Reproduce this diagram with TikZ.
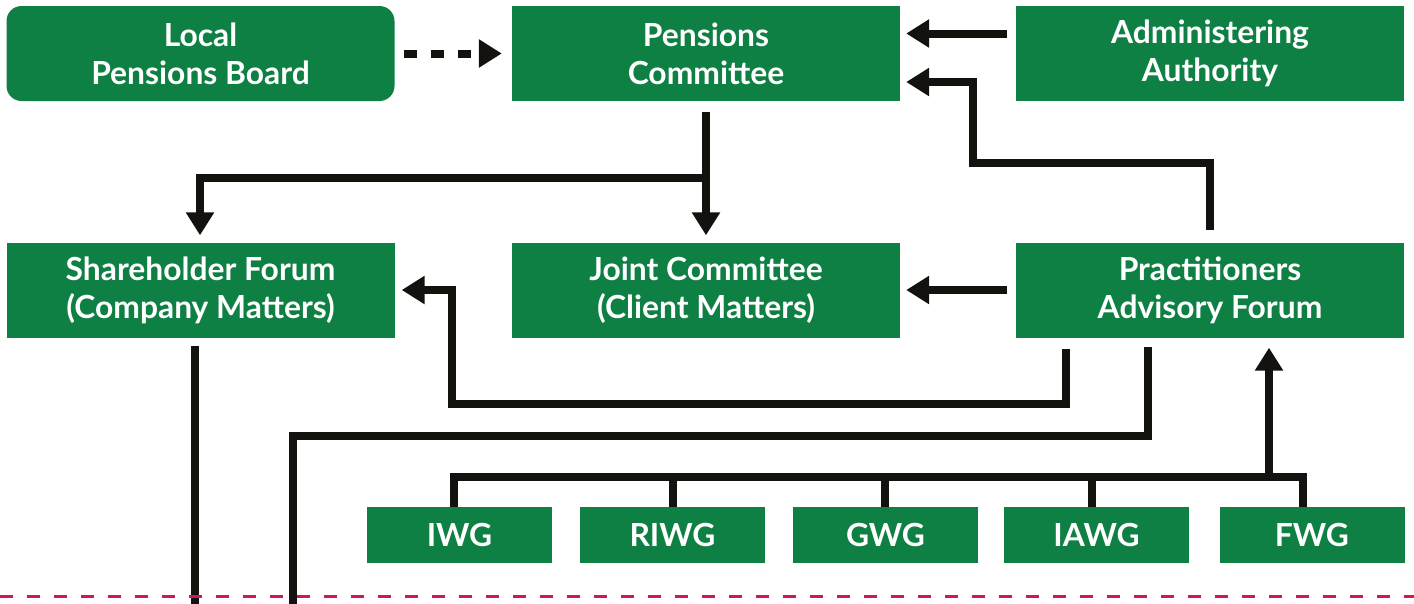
\documentclass[tikz,border=0pt]{standalone}
\usepackage{fontspec}
\setmainfont{Lato}
\usetikzlibrary{arrows.meta}
\definecolor{pgreen}{RGB}{15,128,68}
\definecolor{pblack}{RGB}{19,18,14}
\definecolor{pred}{RGB}{214,19,91}
\begin{document}
\begin{tikzpicture}[x=1pt,y=-1pt,
    box/.style={fill=pgreen,text=white,align=center,inner sep=0pt,
        minimum width=388pt,minimum height=95pt,
        font=\fontsize{31.8}{38}\selectfont\bfseries},
    wg/.style={box,minimum width=185pt,minimum height=56pt},
    line/.style={draw=pblack,line width=8pt},
    arr/.style={line,-{Triangle[length=23pt,width=27pt]}}]
    \useasboundingbox (0,0) rectangle (1414,603);
    %top row
    \node[box,rounded corners=15pt] (lpb) at (200.5,53.5) {Local\\Pensions Board};
    \node[box] (pc) at (706,53.5) {Pensions\\Committee};
    \node[box] (aa) at (1210,53.5) {Administering\\Authority};
    %middle row
    \node[box] (sf) at (200.5,290) {Shareholder Forum\\(Company Matters)};
    \node[box] (jc) at (706,290) {Joint Committee\\(Client Matters)};
    \node[box] (paf) at (1210,290) {Practitioners\\Advisory Forum};
    %working groups
    \node[wg] (iwg) at (459.5,535) {IWG};
    \node[wg] (riwg) at (672.5,535) {RIWG};
    \node[wg] (gwg) at (885.5,535) {GWG};
    \node[wg] (iawg) at (1096.5,535) {IAWG};
    \node[wg] (fwg) at (1312,535) {FWG};
    \coordinate (exitA) at (194.5,610);
    \coordinate (exitB) at (293,610);
    %arrows into the committee
    \draw[arr] [dash pattern=on 13pt off 14pt] ([xshift=9pt]lpb.east) -- ([xshift=-10pt]pc.west);
    \draw[arr] ([shift={(-9,-20)}]aa.west) -- ([shift={(6,-20)}]pc.east);
    \draw[arr] ([shift={(0,-12)}]paf.north) -- ++(0,-67) -- ++(-237,0) |- ([shift={(6,28.5)}]pc.east);
    %committee down
    \draw[arr] ([shift={(0,11)}]pc.south) -- ([shift={(0,-7)}]jc.north);
    \draw[arr] ([shift={(0,77)}]pc.south) -| ([shift={(-0.5,-7)}]sf.north);
    %forum out
    \draw[arr] ([xshift=-9pt]paf.west) -- ([xshift=6pt]jc.east);
    \draw[arr] ([shift={(-144,11)}]paf.south) -- ++(0,55) -- ++(-614,0) |- ([xshift=7pt]sf.east);
    \draw[line] ([shift={(-62,9)}]paf.south) -- ++(0,89) -| (exitB);
    \draw[line] ([shift={(-6,8)}]sf.south) -- (exitA);
    %working groups up
    \draw[line] ([xshift=-5.5pt]iwg.north) -- ++(0,-30) -| ([xshift=-9pt]fwg.north);
    \foreach \n/\d in {riwg/0.5,gwg/-0.5,iawg/-4.5}
        \draw[line] ([xshift=\d pt]\n.north) -- ++(0,-30);
    \draw[arr] ([shift={(-43,-30)}]fwg.north) -- ([shift={(59,10)}]paf.south);
    %cut line
    \draw[pred,line width=3pt,dash pattern=on 13pt off 14pt] (0,596) -- (1414,596);
\end{tikzpicture}
\end{document}
